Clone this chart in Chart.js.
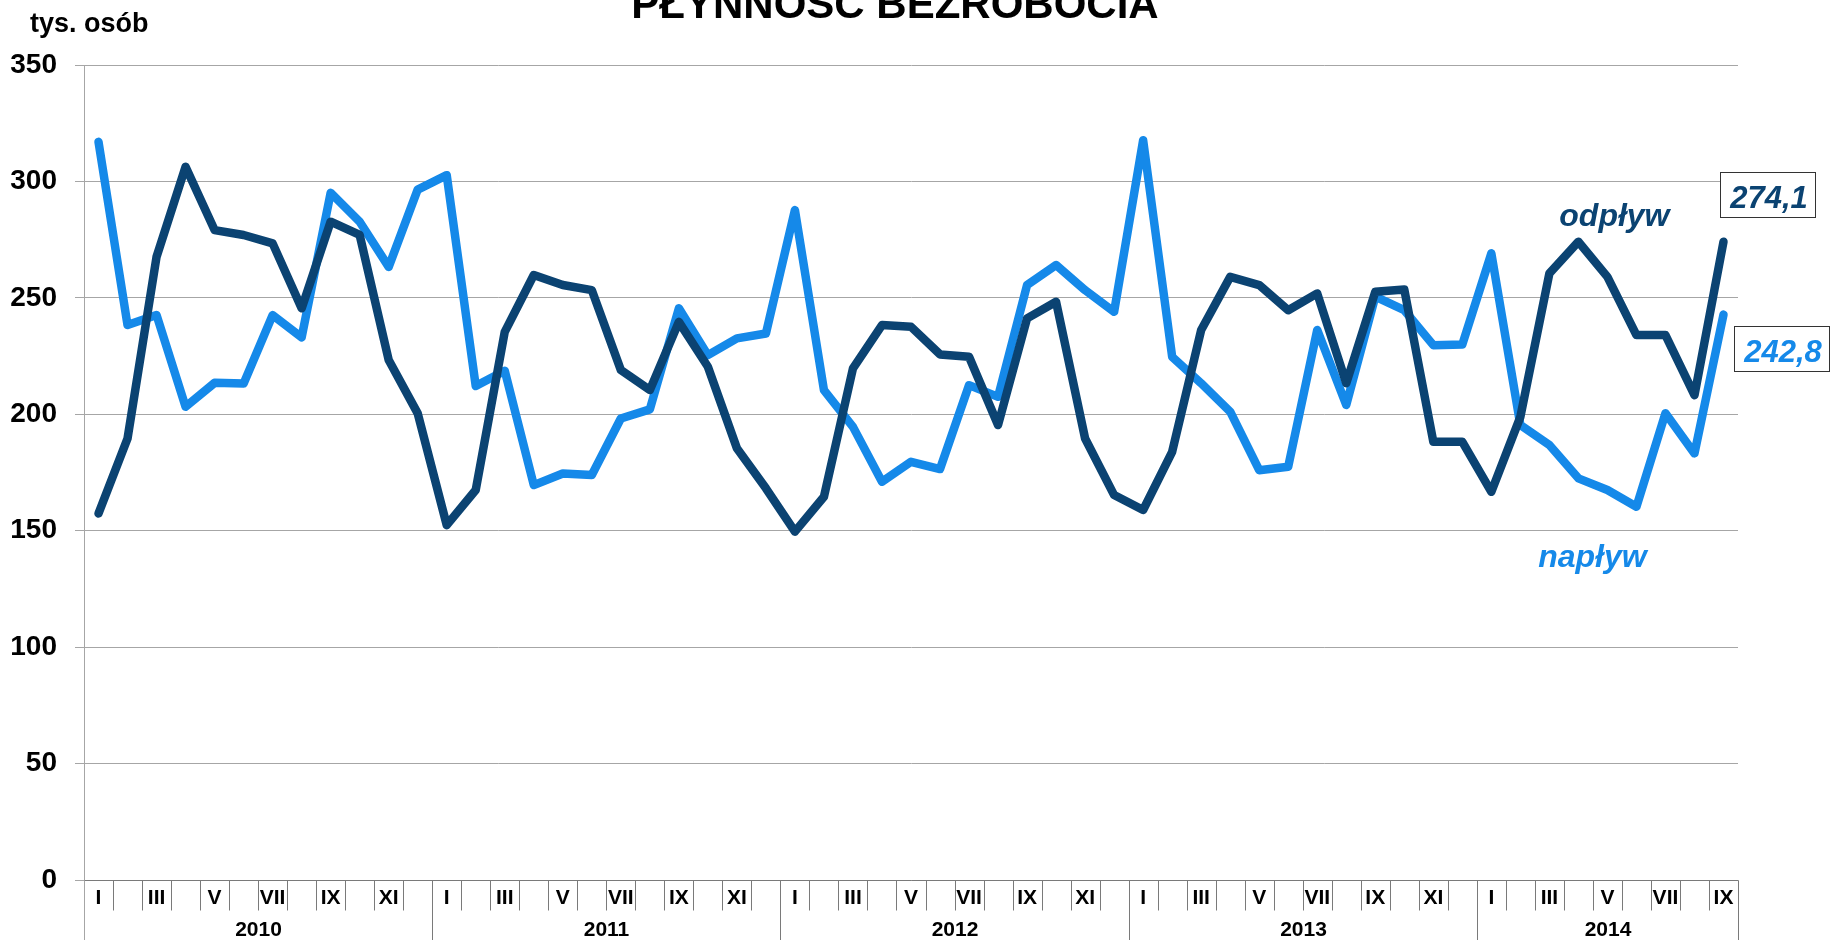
<!DOCTYPE html>
<html>
<head>
<meta charset="utf-8">
<script src="https://cdn.jsdelivr.net/npm/chart.js@4.4.0/dist/chart.umd.min.js"></script>
<style>
html,body{margin:0;padding:0;background:#fff;overflow:hidden}
#wrap{width:1831px;height:940px}
</style>
</head>
<body>
<div id="wrap"><canvas id="c" width="1831" height="940"></canvas></div>
<script>
// ---- data ----
const chartTitle = 'PŁYNNOŚĆ BEZROBOCIA';
const unitLabel = 'tys. osób';
const years = ['2010', '2011', '2012', '2013', '2014'];
const monthsInYear = [12, 12, 12, 12, 9];
const monthNames = ['I','II','III','IV','V','VI','VII','VIII','IX','X','XI','XII'];
const shownMonths = ['I','III','V','VII','IX','XI'];
const yTicks = [0, 50, 100, 150, 200, 250, 300, 350];
const seriesNames = ['napływ', 'odpływ'];

// napływ (inflow)
const naplyw = [
  317.0, 238.3, 242.6, 203.2, 213.5, 213.2, 242.6, 233.0, 295.1, 282.7, 263.3, 296.5,
  302.7, 212.1, 218.7, 169.6, 174.6, 173.9, 198.2, 202.1, 245.5, 225.4, 232.6, 234.7,
  287.7, 210.4, 194.6, 171.0, 179.6, 176.5, 212.5, 207.5, 255.5, 264.1, 253.3, 244.0,
  317.7, 224.7, 213.3, 201.1, 176.0, 177.5, 236.2, 204.0, 250.5, 244.7, 229.7, 230.0,
  269.1, 195.4, 186.8, 172.5, 167.5, 160.3, 200.4, 183.2, 242.8
];
// odpływ (outflow)
const odplyw = [
  157.4, 189.6, 267.6, 306.3, 279.1, 277.0, 273.4, 245.5, 282.7, 277.0, 223.3, 200.4,
  152.4, 167.5, 235.4, 259.8, 255.5, 253.3, 219.0, 210.4, 239.7, 220.4, 185.4, 168.2,
  149.6, 164.6, 219.7, 238.3, 237.6, 225.7, 224.7, 195.4, 241.2, 248.3, 189.6, 165.3,
  158.9, 183.9, 236.2, 259.0, 255.5, 244.7, 251.9, 213.3, 252.6, 253.6, 188.2, 188.2,
  166.7, 198.9, 260.5, 274.1, 259.0, 234.0, 234.0, 208.2, 274.1
];

// ---- derived category table ----
const categories = [];
const monthOfCat = [];
years.forEach((y, yi) => {
  for (let m = 0; m < monthsInYear[yi]; m++) {
    categories.push(monthNames[m] + ' ' + y);
    monthOfCat.push(monthNames[m]);
  }
});

const FONT = '"Liberation Sans", Arial, sans-serif';
const DARK = '#0b4372';
const LIGHT = '#1589e9';
const AXIS_GRAY = '#a6a6a6';
const SEP_GRAY = '#7a7a7a';

const fmt = v => v.toFixed(1).replace('.', ',');

const decorations = {
  id: 'decorations',
  beforeDraw(chart) {
    const ctx = chart.ctx;
    ctx.save();
    ctx.fillStyle = '#fff';
    ctx.fillRect(0, 0, chart.width, chart.height);
    ctx.restore();
  },
  afterDraw(chart) {
    const ctx = chart.ctx;
    const xs = chart.scales.x, ys = chart.scales.y;
    const area = chart.chartArea;
    const H = chart.height;
    const half = (xs.getPixelForValue(1) - xs.getPixelForValue(0)) / 2;
    const n = categories.length;
    const bnd = k => Math.round(k < n ? xs.getPixelForValue(k) - half : xs.getPixelForValue(n - 1) + half) + 0.5;
    const axisY = Math.round(ys.getPixelForValue(0)) + 0.5;

    ctx.save();
    // title
    ctx.fillStyle = '#000';
    ctx.font = 'bold 42px ' + FONT;
    ctx.textAlign = 'center';
    ctx.textBaseline = 'alphabetic';
    ctx.fillText(chartTitle, 895, 18);
    // unit label
    ctx.font = 'bold 27px ' + FONT;
    ctx.textAlign = 'left';
    ctx.fillText(unitLabel, 30, 32);

    // x axis rows
    ctx.strokeStyle = SEP_GRAY;
    ctx.lineWidth = 1;
    ctx.beginPath();
    ctx.moveTo(bnd(0), axisY);
    ctx.lineTo(bnd(n), axisY);
    ctx.stroke();

    const yearStarts = [0];
    monthsInYear.forEach((m, i) => yearStarts.push(yearStarts[i] + m));
    for (let k = 0; k <= n; k++) {
      const isYear = yearStarts.includes(k);
      ctx.beginPath();
      ctx.moveTo(bnd(k), axisY);
      ctx.lineTo(bnd(k), isYear ? H : axisY + 30);
      ctx.stroke();
    }
    // month labels
    ctx.fillStyle = '#000';
    ctx.font = 'bold 21px ' + FONT;
    ctx.textAlign = 'center';
    ctx.textBaseline = 'middle';
    for (let i = 0; i < n; i++) {
      if (shownMonths.includes(monthOfCat[i])) {
        ctx.fillText(monthOfCat[i], xs.getPixelForValue(i), axisY + 18);
      }
    }
    // year labels
    years.forEach((y, yi) => {
      const cx = (bnd(yearStarts[yi]) + bnd(yearStarts[yi + 1])) / 2;
      ctx.fillText(y, cx, axisY + 50);
    });

    // y axis extension down through label rows
    ctx.strokeStyle = AXIS_GRAY;
    ctx.beginPath();
    ctx.moveTo(Math.round(area.left) + 0.5, axisY);
    ctx.lineTo(Math.round(area.left) + 0.5, H);
    ctx.stroke();

    // series name labels
    ctx.font = 'italic bold 32px ' + FONT;
    ctx.textBaseline = 'alphabetic';
    ctx.textAlign = 'center';
    ctx.fillStyle = DARK;
    ctx.fillText(seriesNames[1], xs.getPixelForValue(51) + 36, ys.getPixelForValue(281));
    ctx.fillStyle = LIGHT;
    ctx.fillText(seriesNames[0], xs.getPixelForValue(51) + 14, ys.getPixelForValue(134.5));

    // last value boxes
    const last = n - 1;
    const lx = xs.getPixelForValue(last);
    const boxes = [
      {v: odplyw[last], color: DARK, x: lx - 3, yc: ys.getPixelForValue(odplyw[last]) - 47},
      {v: naplyw[last], color: LIGHT, x: lx + 11, yc: ys.getPixelForValue(naplyw[last]) + 34}
    ];
    ctx.font = 'italic bold 31px ' + FONT;
    boxes.forEach(b => {
      const w = 95, h = 45;
      const x0 = Math.round(b.x) + 0.5, y0 = Math.round(b.yc - h / 2) + 0.5;
      ctx.fillStyle = '#fff';
      ctx.fillRect(x0, y0, w, h);
      ctx.strokeStyle = '#333';
      ctx.lineWidth = 1;
      ctx.strokeRect(x0, y0, w, h);
      ctx.fillStyle = b.color;
      ctx.textAlign = 'center';
      ctx.fillText(fmt(b.v), x0 + w / 2 + 1, y0 + h - 10);
    });
    ctx.restore();
  }
};

new Chart(document.getElementById('c'), {
  type: 'line',
  data: {
    labels: categories,
    datasets: [
      {label: seriesNames[1], data: odplyw, borderColor: DARK, backgroundColor: DARK, order: 0},
      {label: seriesNames[0], data: naplyw, borderColor: LIGHT, backgroundColor: LIGHT, order: 1}
    ]
  },
  options: {
    responsive: false,
    animation: false,
    devicePixelRatio: 1,
    layout: {padding: {left: 10, right: 93, top: 65, bottom: 60}},
    plugins: {legend: {display: false}, tooltip: {enabled: false}, title: {display: false}},
    elements: {
      point: {radius: 0, hoverRadius: 0},
      line: {tension: 0, borderWidth: 8.5, borderCapStyle: 'round', borderJoinStyle: 'round', fill: false}
    },
    scales: {
      x: {type: 'category', offset: true, display: false},
      y: {
        min: 0, max: 350,
        afterBuildTicks: s => { s.ticks = yTicks.map(v => ({value: v})); },
        afterFit: s => { s.width = 74; },
        ticks: {font: {family: FONT, size: 28, weight: 'bold'}, color: '#000', padding: 18},
        grid: {color: AXIS_GRAY, lineWidth: 1, tickLength: 9, drawTicks: true},
        border: {color: AXIS_GRAY, width: 1}
      }
    }
  },
  plugins: [decorations]
});
</script>
</body>
</html>
